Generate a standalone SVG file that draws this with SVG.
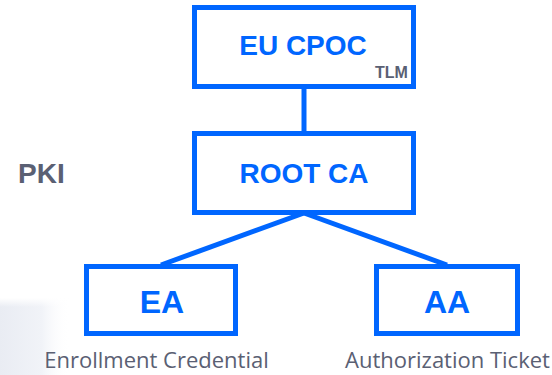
<svg xmlns="http://www.w3.org/2000/svg" width="552" height="375" viewBox="0 0 552 375">
  <defs>
    <linearGradient id="fade" x1="0" y1="0" x2="1" y2="0">
      <stop offset="0" stop-color="#e9ecf3"/>
      <stop offset="0.6" stop-color="#f1f3f8"/>
      <stop offset="1" stop-color="#ffffff" stop-opacity="0"/>
    </linearGradient>
    <linearGradient id="fadeV" x1="0" y1="0" x2="0" y2="1">
      <stop offset="0" stop-color="#ffffff" stop-opacity="1"/>
      <stop offset="0.3" stop-color="#ffffff" stop-opacity="0"/>
    </linearGradient>
    <style>
      .box { fill: #ffffff; stroke: #0066ff; stroke-width: 5; }
      .conn { stroke: #0066ff; stroke-width: 5; fill: none; }
      .title { font-family: "Liberation Sans", Arial, sans-serif; font-weight: bold; fill: #0066ff; text-anchor: middle; }
      .gray { font-family: "Liberation Sans", Arial, sans-serif; font-weight: bold; fill: #5a6073; }
      .label { font-family: "Open Sans", "Noto Sans", sans-serif; font-size: 22px; fill: #5a6073; text-anchor: middle; }
    </style>
  </defs>
  <rect x="0" y="0" width="552" height="375" fill="#ffffff"/>
  <rect x="0" y="298" width="70" height="77" fill="url(#fade)"/>
  <rect x="0" y="298" width="70" height="30" fill="url(#fadeV)"/>

  <g id="connectors">
    <line class="conn" x1="304" y1="87" x2="304" y2="133"/>
    <line class="conn" x1="304" y1="213" x2="161" y2="265"/>
    <line class="conn" x1="304" y1="213" x2="447" y2="265"/>
  </g>

  <g id="eu-cpoc">
    <rect class="box" x="194.5" y="7.5" width="219" height="79"/>
    <text class="title" x="303" y="55" font-size="28">EU CPOC</text>
    <text class="gray" x="375" y="78" font-size="16">TLM</text>
  </g>

  <g id="pki">
    <text class="gray" x="18" y="183" font-size="28">PKI</text>
  </g>

  <g id="root-ca">
    <rect class="box" x="194.5" y="133.5" width="219" height="79"/>
    <text class="title" x="304" y="183" font-size="28">ROOT CA</text>
  </g>

  <g id="ea">
    <rect class="box" x="86.5" y="266.5" width="149" height="67"/>
    <text class="title" x="162" y="312.5" font-size="32">EA</text>
    <text class="label" x="156.5" y="368">Enrollment Credential</text>
  </g>

  <g id="aa">
    <rect class="box" x="376.5" y="266.5" width="141" height="67"/>
    <text class="title" x="447" y="312.5" font-size="32">AA</text>
    <text class="label" x="447.5" y="368">Authorization Ticket</text>
  </g>
</svg>
